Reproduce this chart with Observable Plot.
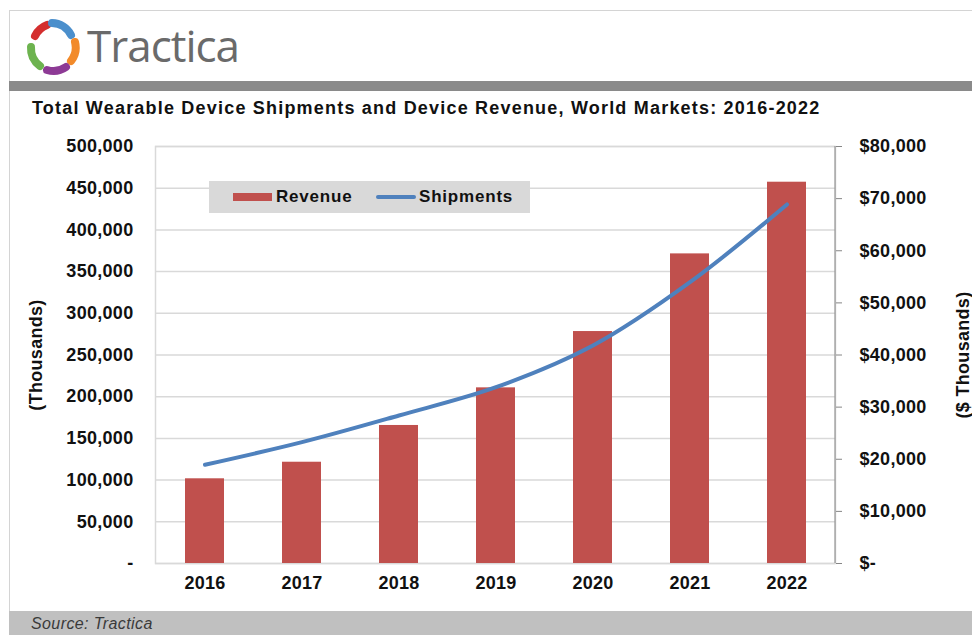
<!DOCTYPE html>
<html>
<head>
<meta charset="utf-8">
<script src="https://cdn.jsdelivr.net/npm/d3@7"></script>
<script src="https://cdn.jsdelivr.net/npm/@observablehq/plot@0.6"></script>
<style>
  html, body { margin: 0; padding: 0; background: #fff; }
  #page { position: relative; width: 972px; height: 635px; overflow: hidden; background: #fff;
          font-family: "Liberation Sans", Arial, sans-serif; color: #111; }
  .abs { position: absolute; }
  #borderTop { left: 9px; top: 10px; width: 963px; height: 1px; background: #d4d4d4; }
  #borderLeft { left: 9px; top: 10px; width: 1px; height: 625px; background: #d4d4d4; }
  #logo { left: 22px; top: 17px; }
  #brand { left: 87px; top: 19px; font-family: "Open Sans", sans-serif; font-size: 44px; color: #6a6a6a;
           letter-spacing: -1px; line-height: 52px; }
  #darkbar { left: 9px; top: 81px; width: 963px; height: 10px; background: #8a8a8a; }
  #title { left: 32px; top: 97px; font-size: 18px; font-weight: bold; line-height: 22px; white-space: nowrap;
           color: #111; letter-spacing: 1.2px; }
  #chart { left: 0; top: 120px; }
  #legend { left: 209px; top: 181px; width: 321px; height: 32px; background: #d9d9d9; }
  .sw { position: absolute; }
  .lt { position: absolute; top: 6px; font-size: 17px; font-weight: bold; letter-spacing: 0.8px; line-height: 20px; }
  #source { left: 9px; top: 611px; width: 963px; height: 24px; background: #c0c0c0; }
  #sourceText { position: absolute; left: 22px; top: 4px; font-size: 16px; font-style: italic; color: #3a3a3a;
                line-height: 18px; letter-spacing: 0.4px; }
</style>
</head>
<body>
<div id="page">
  <div id="borderTop" class="abs"></div>
  <div id="borderLeft" class="abs"></div>
  <svg id="logo" class="abs" width="60" height="60" viewBox="0 0 60 60">
    <g fill="none" stroke-linecap="round">
      <path d="M 13 19 A 22 22 0 0 1 25 8" stroke="#d42e2e" stroke-width="8"/>
      <path d="M 30 6 A 22 22 0 0 1 49 18" stroke="#4b8fcc" stroke-width="8"/>
      <path d="M 53 25 A 22 22 0 0 1 49 44" stroke="#f28a2a" stroke-width="8"/>
      <path d="M 44 50 A 22 22 0 0 1 25 53" stroke="#8d3a95" stroke-width="8"/>
      <path d="M 18 49 A 22 22 0 0 1 9 30" stroke="#6db34f" stroke-width="8"/>
    </g>
  </svg>
  <div id="brand" class="abs">Tractica</div>
  <div id="darkbar" class="abs"></div>
  <div id="title" class="abs">Total Wearable Device Shipments and Device Revenue, World Markets: 2016-2022</div>
  <div id="chart" class="abs"></div>
  <div id="legend" class="abs">
    <div class="sw" style="left:24px;top:12px;width:39px;height:8px;background:#c0504d;"></div>
    <div class="lt" style="left:67px;">Revenue</div>
    <div class="sw" style="left:167px;top:14px;width:40px;height:4px;border-radius:2px;background:#4f81bd;"></div>
    <div class="lt" style="left:210px;">Shipments</div>
  </div>
  <div id="source" class="abs"><div id="sourceText">Source: Tractica</div></div>
</div>
<script>
// ---- data ----
const years = ["2016", "2017", "2018", "2019", "2020", "2021", "2022"];
const revenue = [16250, 19430, 26480, 33700, 44500, 59400, 73150];          // $ thousands (right axis)
const shipments = [118400, 145500, 177500, 211400, 261400, 337300, 430500]; // thousands (left axis)
const leftTicks = [0, 50000, 100000, 150000, 200000, 250000, 300000, 350000, 400000, 450000, 500000];
const rightTicks = [0, 10000, 20000, 30000, 40000, 50000, 60000, 70000, 80000];

const leftMax = leftTicks[leftTicks.length - 1];
const rightMax = rightTicks[rightTicks.length - 1];
const k = leftMax / rightMax; // map right-axis units onto the left scale
const data = years.map((year, i) => ({year, revenue: revenue[i], shipments: shipments[i]}));
const fmt = d3.format(",");

// right axis line (secondary axis)
const rightAxisLine = (index, scales, values, dims) => {
  const x = dims.width - dims.marginRight;
  const l = document.createElementNS("http://www.w3.org/2000/svg", "line");
  l.setAttribute("x1", x); l.setAttribute("x2", x);
  l.setAttribute("y1", dims.marginTop); l.setAttribute("y2", dims.height - dims.marginBottom);
  l.setAttribute("stroke", "#868686");
  return l;
};

const chart = Plot.plot({
  width: 972,
  height: 490,
  marginTop: 26,
  marginBottom: 47,
  marginLeft: 155,
  marginRight: 137,
  style: {fontFamily: "'Liberation Sans', Arial, sans-serif", fontSize: "18px", fontWeight: "bold",
          color: "#111", background: "transparent", letterSpacing: "0.3px"},
  x: {domain: years, paddingInner: 0.6, paddingOuter: 0.3},
  y: {domain: [0, leftMax]},
  marks: [
    Plot.gridY(leftTicks, {stroke: "#d9d9d9", strokeOpacity: 1, strokeWidth: 1.5}),
    Plot.frame({stroke: "#d9d9d9", strokeWidth: 1.5}),
    Plot.barY(data, {x: "year", y: d => d.revenue * k, fill: "#c0504d"}),
    Plot.lineY(data, {x: "year", y: "shipments", stroke: "#4f81bd", strokeWidth: 4, curve: "catmull-rom"}),
    Plot.axisX({tickSize: 0, tickPadding: 13, label: null}),
    Plot.axisY(leftTicks, {anchor: "left", tickSize: 0, tickPadding: 22,
      tickFormat: v => v === 0 ? "-" : fmt(v),
      label: "(Thousands)", labelAnchor: "center", labelArrow: "none", labelOffset: 126}),
    Plot.axisY(rightTicks.map(v => v * k), {anchor: "right", tickSize: 6, tickPadding: 18, stroke: "#868686",
      tickFormat: v => v === 0 ? "$-" : "$" + fmt(Math.round(v / k)),
      label: "($ Thousands)", labelAnchor: "center", labelArrow: "none", labelOffset: 133}),
    rightAxisLine
  ]
});
document.getElementById("chart").appendChild(chart);
</script>
</body>
</html>
